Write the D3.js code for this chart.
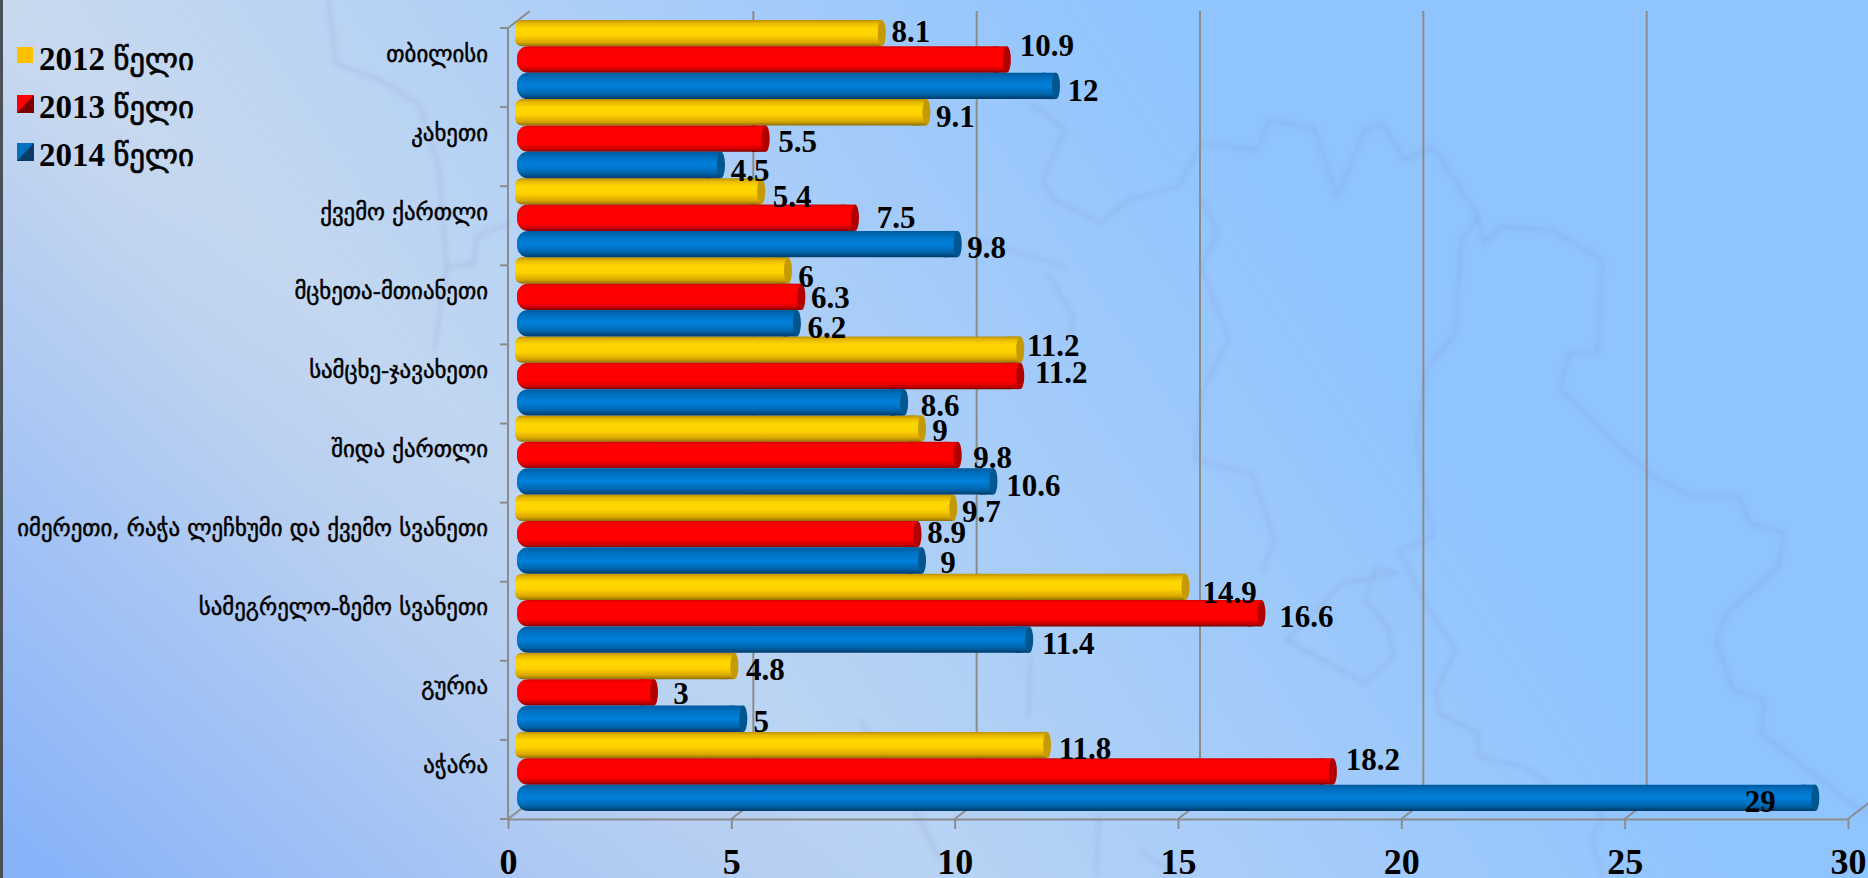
<!DOCTYPE html>
<html><head><meta charset="utf-8">
<script src="https://cdn.jsdelivr.net/npm/d3@7"></script>
<style>html,body{margin:0;padding:0;overflow:hidden;background:#90c4ff}svg{display:block}</style>
</head><body><svg id="c" width="1868" height="878"></svg>
<script>
const categories=["თბილისი","კახეთი","ქვემო ქართლი","მცხეთა-მთიანეთი","სამცხე-ჯავახეთი","შიდა ქართლი","იმერეთი, რაჭა ლეჩხუმი და ქვემო სვანეთი","სამეგრელო-ზემო სვანეთი","გურია","აჭარა"];
const seriesNames=["2012 წელი","2013 წელი","2014 წელი"];
const values2012=[8.1,9.1,5.4,6,11.2,9,9.7,14.9,4.8,11.8];
const values2013=[10.9,5.5,7.5,6.3,11.2,9.8,8.9,16.6,3,18.2];
const values2014=[12,4.5,9.8,6.2,8.6,10.6,9,11.4,5,29];
const xTicks=[0,5,10,15,20,25,30];

// label offsets from the end of each bar, [dx,dy] per series, per category
const labelNudge=[
 [[25,-2],[36,-14],[23,5]],[[25,4],[28,3],[25,5]],[[27,5],[37,0],[25,3]],
 [[14,6],[25,1],[26,4]],[[29,-4],[37,-3],[32,3]],[[14,2],[31,2],[36,4]],
 [[24,4],[25,-2],[22,2]],[[40,6],[41,3],[35,4]],[[27,4],[23,1],[14,3]],
 [[34,3],[36,-12],[-59,4]]];

const W=1868,H=878,depthX=22,depthY=17,barShift=16;
const x=d3.scaleLinear().domain([0,30]).range([508,1848]);
const y=d3.scaleBand().domain(categories).range([28,819]);
const seriesScale=d3.scaleBand().domain(d3.range(3)).range([0,y.step()]);
const svg=d3.select("#c"),defs=svg.append("defs");

function lin(id,pts,stops,units){
  const g=defs.append("linearGradient").attr("id",id);
  if(units) g.attr("gradientUnits","userSpaceOnUse").attr("x1",pts[0]).attr("y1",pts[1]).attr("x2",pts[2]).attr("y2",pts[3]);
  else g.attr("x1",0).attr("y1",0).attr("x2",0).attr("y2",1);
  stops.forEach(s=>g.append("stop").attr("offset",s[0]).attr("stop-color",s[1]).attr("stop-opacity",s[2]===undefined?1:s[2]));
}
lin("bg",[350,560,1150,20],[[0,"#cbdaee"],[1,"#90c4ff"]],true);
lin("bl",[40,870,460,420],[[0,"#88b3f9",1],[1,"#88b3f9",0]],true);
const styles=[
 {fill:"gy",cap:"#c49a06",leftBack:2,rx:7,stops:[[0,"#b98f05"],[.12,"#e6b800"],[.32,"#ffd800"],[.6,"#ffd000"],[.85,"#d9a800"],[1,"#8e7000"]],sw:"#ffc000"},
 {fill:"gr",cap:"#b00000",leftBack:0,rx:11,stops:[[0,"#d80000"],[.12,"#ff0000"],[.72,"#ff0000"],[.9,"#c80000"],[1,"#760000"]],sw:"#ff0000",swd:"#7a0000"},
 {fill:"gb",cap:"#00568f",leftBack:0,rx:11,stops:[[0,"#005a9e"],[.2,"#0070c0"],[.5,"#0080dc"],[.8,"#0066ae"],[1,"#003a66"]],sw:"#0070c0",swd:"#0a3a68"}];
styles.forEach(s=>lin(s.fill,null,s.stops,false));
defs.append("filter").attr("id","soft").append("feGaussianBlur").attr("stdDeviation",2.2);

svg.append("rect").attr("width",W).attr("height",H).attr("fill","url(#bg)");
svg.append("rect").attr("width",W).attr("height",H).attr("fill","url(#bl)");
svg.append("rect").attr("width",3).attr("height",H).attr("fill","#4a5058");

// faint background map, given in crop coordinates of the backdrop picture
const cropA=p=>[980+p[0]/1.766,p[1]/3],cropB=p=>[980+p[0]/1.766,440+p[1]/3],cropL=p=>[p[0]/2.53,p[1]/3];
const mapLines=[
 [[90,310],[150,390],[110,540],[130,600],[215,670],[260,600],[350,560],[390,430],[490,450],[510,360],[590,385],[630,590],[680,390],[710,370],[750,480],[800,440],[880,650],[890,730],[920,680],[1010,690],[1100,780],[1090,1060],[1040,1060],[1025,1170],[1110,1310]].map(cropA).concat([[1190,110],[1260,170],[1340,170],[1360,250],[1420,280],[1410,380],[1320,520],[1300,600],[1330,750],[1385,780],[1380,880],[1530,1080],[1568,1120]].map(cropB)),
 [[880,650],[850,720],[840,1000],[790,1100],[770,1320]].map(cropA).concat([[780,100],[800,290],[740,330],[790,500],[840,630],[805,750],[810,820],[880,880],[880,950],[960,980],[1020,1050],[1100,1120],[1080,1200],[1100,1310]].map(cropB)),
 [[390,590],[420,700],[390,800],[440,1020],[390,1180]].map(cropA).concat([[380,60],[480,100],[520,300],[500,390]].map(cropB)),
 [[740,400],[640,430],[540,600],[680,730],[730,650],[720,560],[680,480],[700,380],[740,400]].map(cropB),
 [[90,650],[85,830]].map(cropB),[[210,1120],[205,1310]].map(cropB),
 [[150,800],[70,760],[0,720]].map(cropA),[[120,820],[165,950],[160,1000]].map(cropA),
 [[830,0],[850,190],[960,240],[1060,310],[1110,500],[1130,800],[1200,790],[1205,710],[1285,670]].map(cropL),
 [[1130,800],[1120,880],[1100,1050]].map(cropL),
 [[860,720],[900,780],[940,860]],[[1140,850],[1180,878]]
];
svg.append("g").attr("filter","url(#soft)").selectAll("path").data(mapLines).join("path")
 .attr("d",d3.line()).attr("fill","none").attr("stroke-linejoin","round")
 .attr("stroke","#7470b4").attr("stroke-opacity",.14).attr("stroke-width",4);

// chart frame
const gridColor="#8c8c8c";
const frame=svg.append("g").attr("stroke",gridColor).attr("stroke-width",2).attr("fill","none");
const yTop=y.range()[0],yBot=y.range()[1];
frame.selectAll(".g").data(xTicks.slice(1)).join("line").attr("x1",d=>x(d)+depthX).attr("x2",d=>x(d)+depthX).attr("y1",yTop-depthY).attr("y2",yBot-depthY);
frame.selectAll(".d").data(xTicks).join("line").attr("x1",d=>x(d)).attr("x2",d=>x(d)+depthX).attr("y1",yBot).attr("y2",yBot-depthY);
frame.append("line").attr("x1",x(0)).attr("x2",x(0)+depthX).attr("y1",yTop).attr("y2",yTop-depthY);
frame.append("line").attr("x1",x(0)).attr("x2",x(0)).attr("y1",yTop).attr("y2",yBot);
frame.selectAll(".t").data(d3.range(categories.length+1)).join("line").attr("x1",x(0)-8).attr("x2",x(0)).attr("y1",i=>yTop+i*y.step()).attr("y2",i=>yTop+i*y.step());

const xAxis=svg.append("g").attr("transform",`translate(0,${yBot})`).call(d3.axisBottom(x).tickValues(xTicks).tickFormat(d3.format("d")).tickSize(10).tickSizeOuter(0).tickPadding(19.5));
xAxis.selectAll("path,line").attr("stroke",gridColor).attr("stroke-width",2);
xAxis.selectAll("text").attr("fill","#000").attr("font-family","'Liberation Serif'").attr("font-weight","bold").attr("font-size",36);

const yAxis=svg.append("g").attr("transform",`translate(488,0)`).call(d3.axisLeft(y).tickSize(0).tickPadding(0));
yAxis.select("path").remove();
yAxis.selectAll("text").attr("fill","#000").attr("stroke","#000").attr("stroke-width",.5).attr("font-family","'DejaVu Sans'").attr("font-size",22.8).attr("dy",0).attr("y",-6);

// bars
const seriesValues=[values2012,values2013,values2014];
const barStart=x(0)+9;
seriesValues.forEach((vals,s)=>{
 const st=styles[s],g=svg.append("g");
 const h=seriesScale.bandwidth();
 vals.forEach((v,i)=>{
  const by=y(categories[i])-8+seriesScale(s),end=x(v)+barShift,rxc=4;
  g.append("rect").attr("x",barStart-st.leftBack).attr("y",by).attr("width",end-rxc-barStart+st.leftBack).attr("height",h).attr("rx",st.rx).attr("fill",`url(#${st.fill})`);
  g.append("rect").attr("x",end-rxc-14).attr("y",by).attr("width",14).attr("height",h).attr("fill",`url(#${st.fill})`);
  g.append("ellipse").attr("cx",end-rxc).attr("cy",by+h/2).attr("rx",rxc).attr("ry",h/2).attr("fill",st.cap);
 });
});
// value labels
seriesValues.forEach((vals,s)=>{
 svg.append("g").selectAll("text").data(vals).join("text")
  .attr("x",(v,i)=>x(v)+barShift+labelNudge[i][s][0])
  .attr("y",(v,i)=>y(categories[i])-8+seriesScale(s)+seriesScale.bandwidth()/2+labelNudge[i][s][1]+10.5)
  .attr("text-anchor","middle").attr("font-family","'Liberation Serif'").attr("font-weight","bold").attr("font-size",31).attr("fill","#000")
  .text(v=>v);
});
// legend
const leg=svg.append("g").selectAll("g").data(seriesNames).join("g").attr("transform",(d,i)=>`translate(0,${i*48})`);
leg.each(function(d,i){
 const g=d3.select(this),st=styles[i];
 if(i===0){g.append("rect").attr("x",17).attr("y",47).attr("width",16).attr("height",16).attr("fill",st.sw);}
 else{
  g.append("rect").attr("x",17).attr("y",47).attr("width",17).attr("height",18).attr("fill",st.sw);
  g.append("path").attr("d","M17,65L34,47L34,65Z").attr("fill",st.swd);
 }
 const parts=d.split(" ");
 const t=g.append("text").attr("x",39).attr("y",70).attr("fill","#000").attr("font-weight","bold").attr("font-size",33);
 t.append("tspan").attr("font-family","'Liberation Serif'").text(parts[0]+" ");
 t.append("tspan").attr("font-family","'DejaVu Sans'").attr("font-weight","normal").attr("stroke","#000").attr("stroke-width",.7).attr("font-size",31).text(parts[1]);
});
</script></body></html>
